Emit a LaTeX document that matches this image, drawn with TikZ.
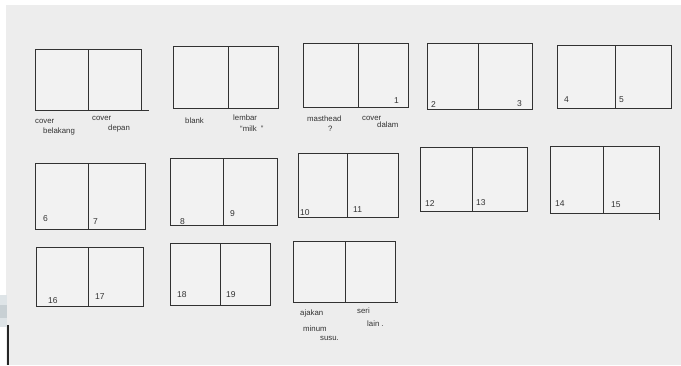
\documentclass[tikz,border=0pt]{standalone}
\usepackage{fontspec}
\setmainfont{Liberation Sans}
\usepackage{xcolor}
\usepackage{tikz}
\usetikzlibrary{positioning}
\definecolor{paperbg}{RGB}{237,237,237}
\definecolor{pagefill}{RGB}{242,242,242}
\definecolor{pencil}{RGB}{50,50,50}
\definecolor{stripblue}{RGB}{222,228,231}
\definecolor{stripgray}{RGB}{200,208,212}

\begin{document}
\begin{tikzpicture}[
    x=1pt, y=-1pt,
    page/.style={rectangle, draw=pencil, line width=0.9pt, fill=pagefill, inner sep=0pt, outer sep=0pt},
    stroke/.style={draw=pencil, line width=0.9pt},
    pagenum/.style={font=\fontsize{8.5}{9}\selectfont, text=pencil, inner sep=0pt, anchor=base west},
    note/.style={font=\fontsize{7.8}{9}\selectfont, text=pencil, inner sep=0pt, anchor=base west}
]
\fill[white] (0,0) rectangle (681,365);
\fill[paperbg] (6,5) rectangle (681,365);
\useasboundingbox (0,0) rectangle (681,365);

% edge of the photo
\fill[stripblue] (0,295) rectangle (7,305);
\fill[stripgray] (0,305) rectangle (7,318);
\fill[stripblue] (0,318) rectangle (7,327);
\draw[line width=1.5pt, black!85] (8,325) -- (8,365);

% Row 1
\node[page, anchor=north west, minimum width=53pt, minimum height=61pt] (s1l) at (35,49) {};
\node[page, right=0pt of s1l, minimum width=53pt, minimum height=61pt] (s1r) {};
\draw[stroke] (s1r.south east) -- ++(8,0);
\node[page, anchor=north west, minimum width=55pt, minimum height=62pt] (s2l) at (173,46) {};
\node[page, right=0pt of s2l, minimum width=50pt, minimum height=62pt] (s2r) {};
\node[page, anchor=north west, minimum width=55pt, minimum height=64pt] (s3l) at (303,43) {};
\node[page, right=0pt of s3l, minimum width=50pt, minimum height=64pt] (s3r) {};
\node[page, anchor=north west, minimum width=51pt, minimum height=66pt] (s4l) at (427,43) {};
\node[page, right=0pt of s4l, minimum width=54pt, minimum height=66pt] (s4r) {};
\node[page, anchor=north west, minimum width=58pt, minimum height=63pt] (s5l) at (557,45) {};
\node[page, right=0pt of s5l, minimum width=56pt, minimum height=63pt] (s5r) {};

% Row 2
\node[page, anchor=north west, minimum width=53pt, minimum height=66pt] (s6l) at (35,163) {};
\node[page, right=0pt of s6l, minimum width=57pt, minimum height=66pt] (s6r) {};
\node[page, anchor=north west, minimum width=53pt, minimum height=67pt] (s7l) at (170,158) {};
\node[page, right=0pt of s7l, minimum width=54pt, minimum height=67pt] (s7r) {};
\node[page, anchor=north west, minimum width=49pt, minimum height=64pt] (s8l) at (298,153) {};
\node[page, right=0pt of s8l, minimum width=51pt, minimum height=64pt] (s8r) {};
\node[page, anchor=north west, minimum width=52pt, minimum height=64pt] (s9l) at (420,147) {};
\node[page, right=0pt of s9l, minimum width=55pt, minimum height=64pt] (s9r) {};
\node[page, anchor=north west, minimum width=53pt, minimum height=67pt] (s10l) at (550,146) {};
\node[page, right=0pt of s10l, minimum width=56pt, minimum height=67pt] (s10r) {};
\draw[stroke] (s10r.south east) -- ++(0,7);

% Row 3
\node[page, anchor=north west, minimum width=52pt, minimum height=59pt] (s11l) at (36,247) {};
\node[page, right=0pt of s11l, minimum width=55pt, minimum height=59pt] (s11r) {};
\node[page, anchor=north west, minimum width=50pt, minimum height=62pt] (s12l) at (170,243) {};
\node[page, right=0pt of s12l, minimum width=50pt, minimum height=62pt] (s12r) {};
\node[page, anchor=north west, minimum width=52pt, minimum height=61pt] (s13l) at (293,241) {};
\node[page, right=0pt of s13l, minimum width=50pt, minimum height=61pt] (s13r) {};
\draw[stroke] (s13r.south east) -- ++(3,0);

% Page numbers
\node[pagenum] (n1) at (394,103) {1};
\node[pagenum] (n2) at (431,107) {2};
\node[pagenum] (n3) at (517,106) {3};
\node[pagenum] (n4) at (564,102) {4};
\node[pagenum] (n5) at (619,102) {5};
\node[pagenum] (n6) at (43,221) {6};
\node[pagenum] (n7) at (93,224) {7};
\node[pagenum] (n8) at (180,224) {8};
\node[pagenum] (n9) at (230,216) {9};
\node[pagenum] (n10) at (300,215) {10};
\node[pagenum] (n11) at (353,212) {11};
\node[pagenum] (n12) at (425,206) {12};
\node[pagenum] (n13) at (476,205) {13};
\node[pagenum] (n14) at (555,206) {14};
\node[pagenum] (n15) at (611,207) {15};
\node[pagenum] (n16) at (48,303) {16};
\node[pagenum] (n17) at (95,299) {17};
\node[pagenum] (n18) at (177,297) {18};
\node[pagenum] (n19) at (226,297) {19};

% Notes under the spreads
\node[note] (coverA) at (35,123) {cover};
\node[note] (coverB) at (43,133) {belakang};
\node[note] (frontA) at (92,120) {cover};
\node[note] (frontB) at (108,130) {depan};
\node[note] (blank) at (185,123) {blank};
\node[note] (milkA) at (233,120) {lembar};
\node[note] (milkB) at (240,131) {“milk\ \ ”};
\node[note] (mastA) at (307,121) {masthead};
\node[note] (mastB) at (328,131) {?};
\node[note] (innerA) at (362,120) {cover};
\node[note] (innerB) at (377,127) {dalam};
\node[note] (askA) at (300,315) {ajakan};
\node[note] (askB) at (303,331) {minum};
\node[note] (askC) at (320,340) {susu.};
\node[note] (seriA) at (357,313) {seri};
\node[note] (seriB) at (367,326) {lain .};

\end{tikzpicture}
\end{document}
